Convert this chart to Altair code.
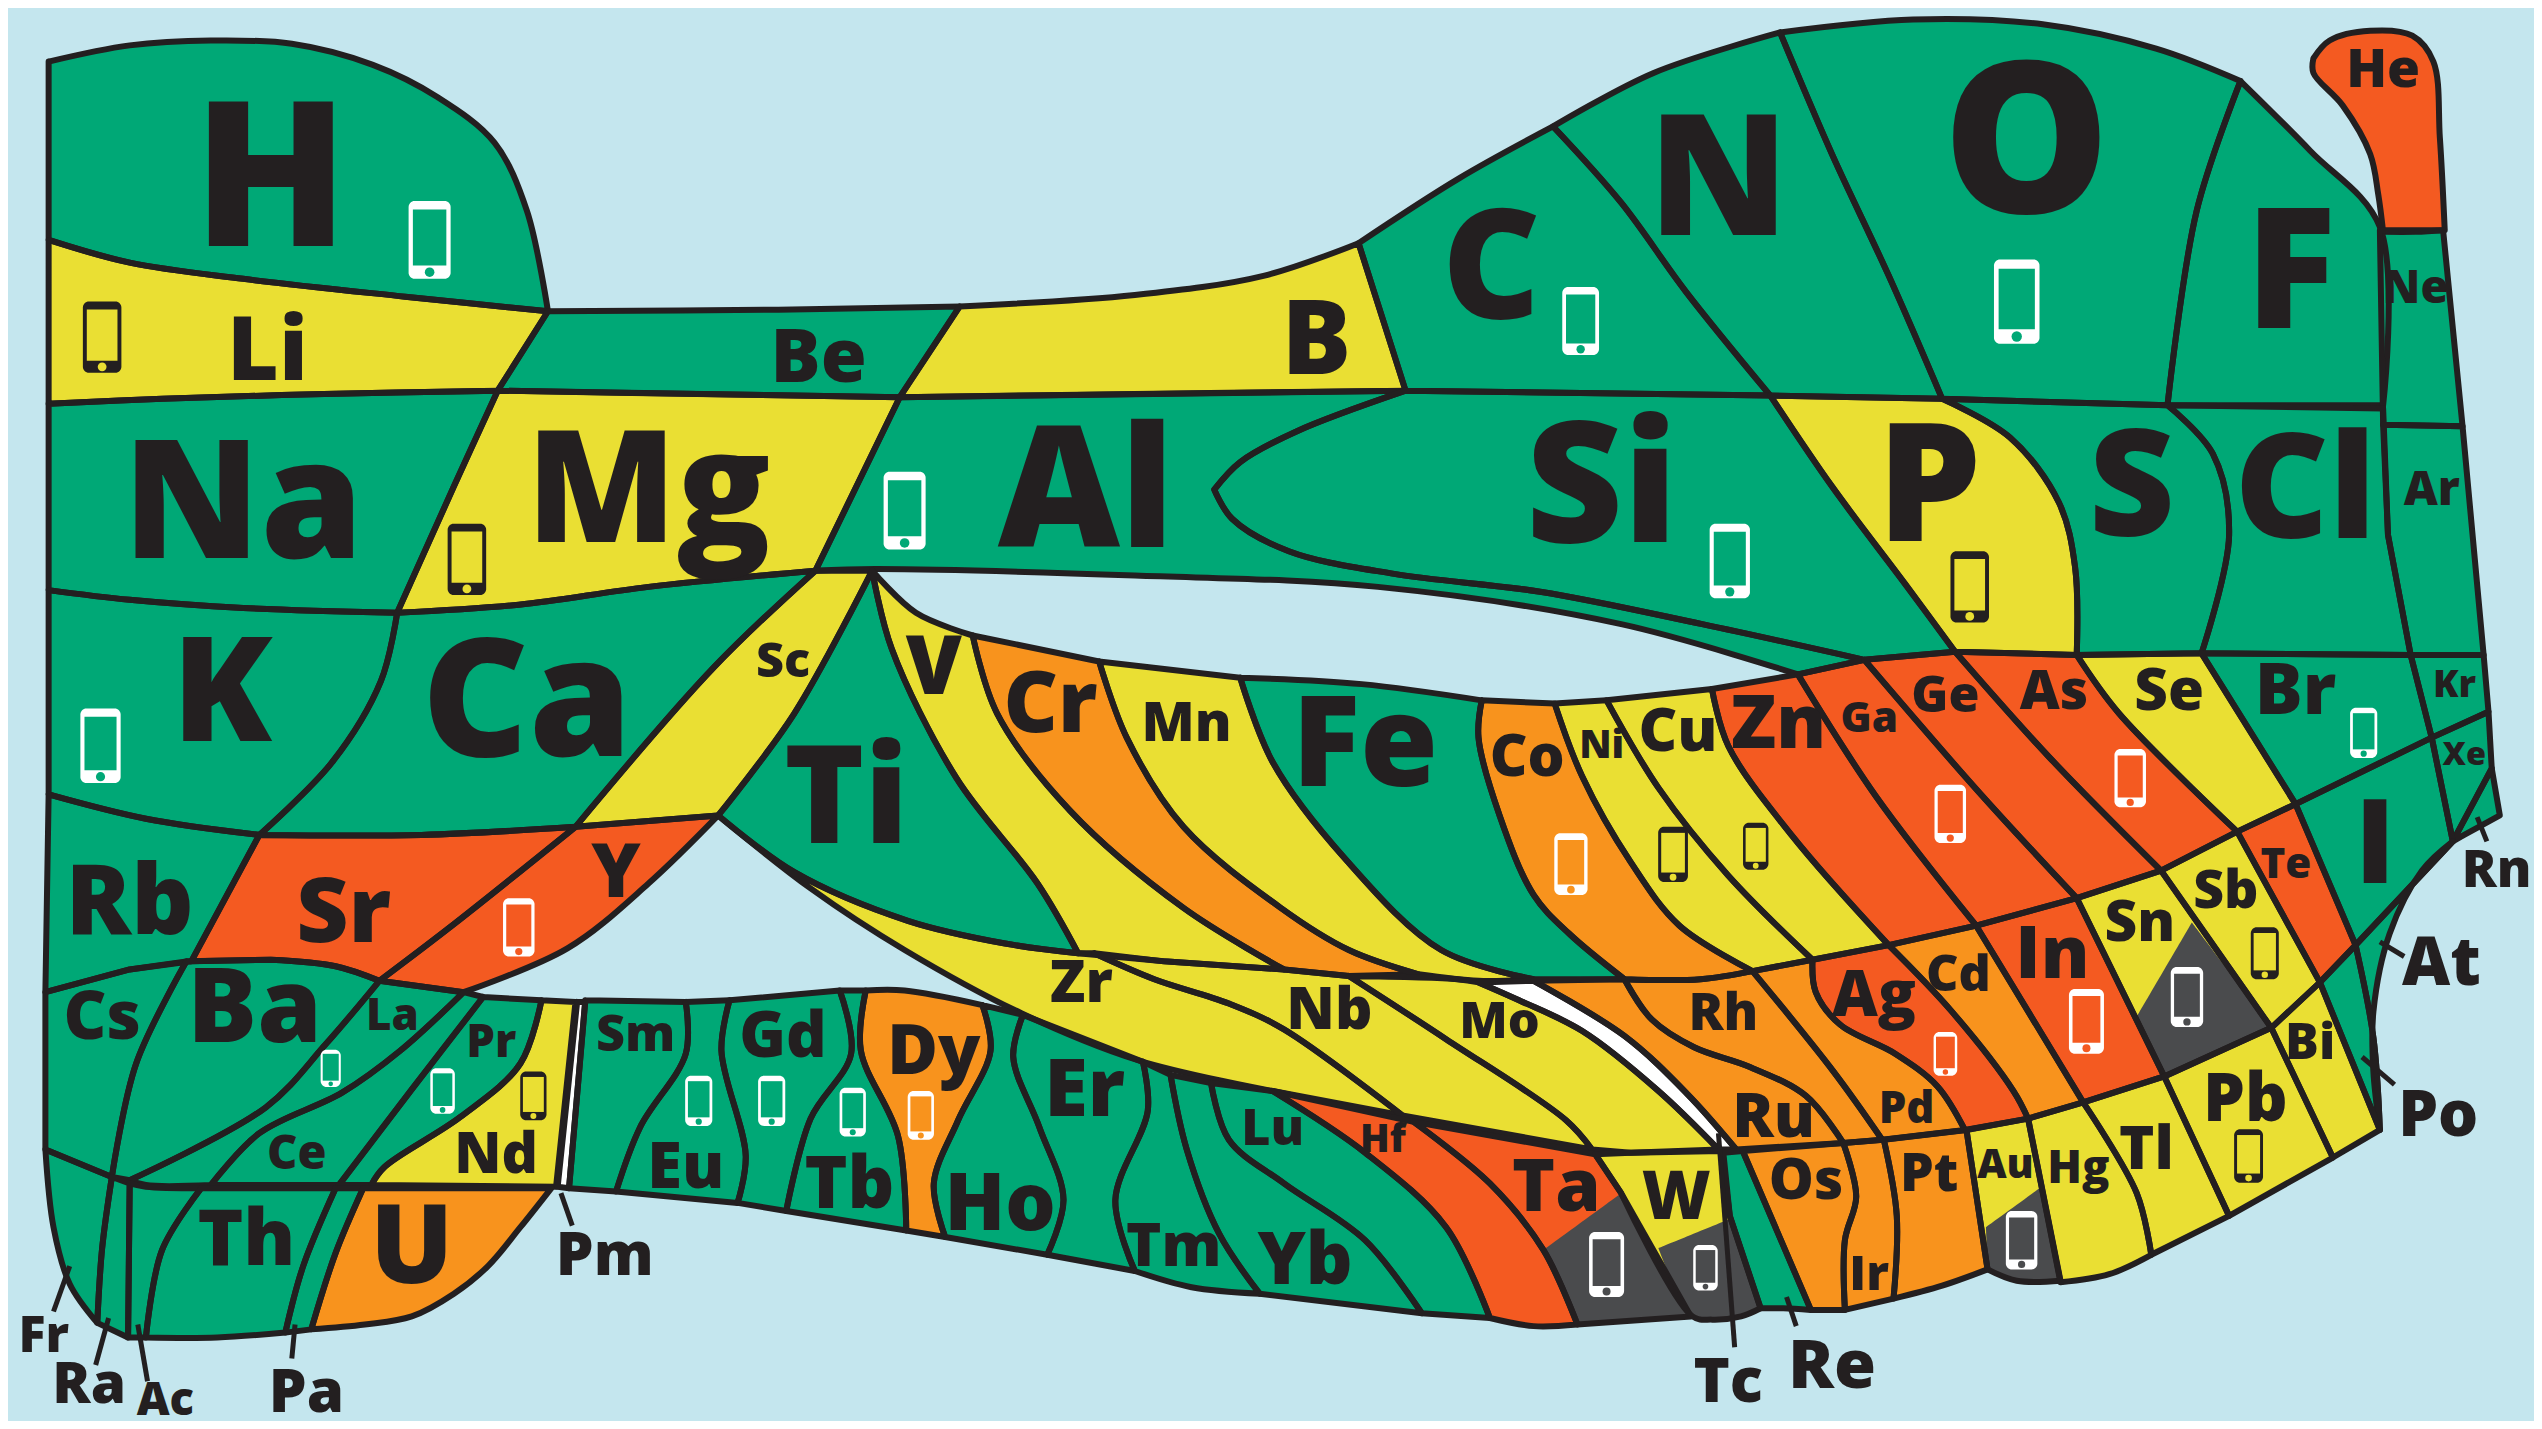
import math
import altair as alt
import pandas as pd

BG = "#C4E6EE"; INK = "#231F20"
GREEN = "#00A876"; YELLOW = "#EADF33"; RED = "#F45A21"; ORANGE = "#F8931D"; GREY = "#4A4B4D"; WHITE = "#FFFFFF"

yellow_cells = "Li B Mg P Sc V Mn Ni Cu Se Zr Nb Mo W Sn Sb Nd Au Hg Tl Pb Bi".split()
red_cells = "He Sr Y Zn Ga Ge As In Te Hf Ta Ag".split()
orange_cells = "Cr Co Ru Rh Pd Cd U Dy Os Ir Pt".split()
white_cells = ["Tc", "Pm"]
grey_cells = ["SnGrey", "TaGrey", "WGrey", "AuGrey"]

outlines = {
 "H": [(30,38),(80,28),(130,25),(180,27),(230,40),(270,60),(305,88),(325,130),(338,192),(250,183),(150,172),(80,162),(30,148)],
 "He": [(1427,36),(1437,25),(1462,19),(1488,22),(1501,38),(1505,85),(1508,142),(1490,143),(1470,143),(1467,120),(1462,95),(1445,65),(1427,45)],
 "Li": [(30,148),(80,162),(150,172),(250,183),(338,192),(307,241),(200,243),(100,246),(30,249)],
 "Be": [(338,192),(480,191),(592,189),(555,245),(307,241)],
 "B": [(592,189),(700,182),(780,170),(838,150),(867,241),(700,243),(555,245)],
 "C": [(838,150),(900,110),(958,78),(1000,125),(1040,180),(1092,244),(867,241)],
 "N": [(958,78),(1020,45),(1098,20),(1130,95),(1165,170),(1198,246),(1092,244),(1040,180),(1000,125)],
 "O": [(1098,20),(1180,12),(1260,15),(1330,30),(1382,50),(1355,130),(1337,250),(1198,246),(1165,170),(1130,95)],
 "F": [(1382,50),(1425,93),(1468,140),(1470,250),(1337,250),(1355,130)],
 "Ne": [(1468,142),(1507,142),(1519,263),(1470,262)],
 "Na": [(30,249),(100,246),(200,243),(307,241),(280,300),(245,378),(150,375),(80,370),(30,364)],
 "Mg": [(307,241),(430,243),(555,245),(503,352),(400,362),(320,373),(245,378),(280,300)],
 "Al": [(555,245),(867,241),(800,266),(765,285),(749,302),(760,320),(795,340),(860,354),(950,365),(1050,385),(1150,407),(1109,416),(1000,385),(850,362),(700,355),(540,351),(503,352)],
 "Si": [(867,241),(1092,244),(1130,300),(1175,360),(1206,402),(1150,407),(1050,385),(950,365),(860,354),(795,340),(760,320),(749,302),(765,285),(800,266)],
 "P": [(1092,244),(1198,246),(1240,270),(1270,310),(1280,350),(1281,404),(1206,402),(1175,360),(1130,300)],
 "S": [(1198,246),(1337,250),(1365,280),(1375,330),(1358,403),(1281,404),(1280,350),(1270,310),(1240,270)],
 "Cl": [(1337,250),(1470,252),(1473,330),(1487,404),(1358,403),(1375,330),(1365,280)],
 "Ar": [(1470,262),(1519,263),(1532,404),(1487,404),(1473,330)],
 "K": [(30,364),(80,370),(150,375),(245,378),(235,420),(205,470),(160,515),(90,505),(30,490)],
 "Ca": [(245,378),(320,373),(400,362),(503,352),(440,412),(355,510),(260,515),(160,515),(205,470),(235,420)],
 "Sc": [(503,352),(538,352),(490,440),(443,503),(355,510),(440,412)],
 "Ti": [(538,352),(550,400),(590,480),(640,545),(665,588),(620,582),(560,568),(490,538),(443,503),(490,440)],
 "V": [(538,352),(565,378),(600,392),(615,440),(660,500),(730,560),(792,598),(718,593),(665,588),(640,545),(590,480),(550,400)],
 "Cr": [(600,392),(678,408),(695,455),(730,510),(790,560),(832,586),(875,601),(832,602),(792,598),(730,560),(660,500),(615,440)],
 "Mn": [(678,408),(765,418),(785,470),(830,530),(889,586),(946,604),(912,605),(875,601),(832,586),(790,560),(730,510),(695,455)],
 "Fe": [(765,418),(840,422),(914,432),(912,455),(925,503),(946,552),(968,576),(1002,604),(946,604),(889,586),(830,530),(785,470)],
 "Co": [(914,432),(959,434),(976,479),(1006,532),(1036,571),(1081,599),(1049,604),(1002,604),(968,576),(946,552),(925,503),(912,455)],
 "Ni": [(959,434),(991,432),(1023,486),(1066,540),(1118,592),(1081,599),(1036,571),(1006,532),(976,479)],
 "Cu": [(991,432),(1056,425),(1066,460),(1105,515),(1165,583),(1118,592),(1066,540),(1023,486)],
 "Zn": [(1056,425),(1109,416),(1157,491),(1219,571),(1165,583),(1105,515),(1066,460)],
 "Ga": [(1109,416),(1150,407),(1221,489),(1281,554),(1219,571),(1157,491)],
 "Ge": [(1150,407),(1206,402),(1264,467),(1333,537),(1281,554),(1221,489)],
 "As": [(1206,402),(1281,404),(1307,440),(1380,513),(1333,537),(1264,467)],
 "Se": [(1281,404),(1358,403),(1416,496),(1380,513),(1307,440)],
 "Br": [(1358,403),(1487,404),(1500,455),(1416,496)],
 "Kr": [(1487,404),(1532,404),(1535,439),(1500,455)],
 "Xe": [(1500,455),(1535,439),(1537,474),(1513,519)],
 "Rn": [(1537,474),(1542,503),(1520,515),(1513,519)],
 "I": [(1416,496),(1500,455),(1513,519),(1453,583)],
 "At": [(1453,583),(1513,519),(1494,537),(1474,576),(1464,624),(1464,661),(1468,697),(1464,640)],
 "Po": [(1453,583),(1431,606),(1468,697),(1464,640)],
 "Rb": [(30,490),(90,505),(160,515),(118,593),(80,598),(28,612)],
 "Sr": [(160,515),(260,515),(355,510),(280,570),(234,605),(207,596),(167,592),(118,593)],
 "Y": [(355,510),(443,503),(400,545),(350,585),(286,612),(234,605),(280,570)],
 "Zr": [(443,503),(490,538),(560,568),(620,582),(665,588),(675,588),(712,604),(758,619),(792,635),(865,688),(785,673),(702,654),(630,625),(558,586),(500,548)],
 "Nb": [(675,588),(718,593),(792,598),(832,602),(892,641),(966,691),(982,709),(865,688),(792,635),(758,619),(712,604)],
 "Mo": [(832,602),(899,604),(912,606),(937,617),(976,636),(1023,673),(1060,709),(1006,711),(982,709),(966,691),(892,641)],
 "Tc": [(912,606),(946,605),(1002,639),(1041,675),(1071,709),(1060,709),(1023,673),(976,636),(937,617)],
 "Ru": [(946,605),(1002,604),(1019,629),(1045,646),(1079,658),(1114,676),(1137,705),(1071,709),(1041,675),(1002,639)],
 "Rh": [(1002,604),(1049,604),(1081,599),(1131,661),(1161,703),(1137,705),(1114,676),(1079,658),(1045,646),(1019,629)],
 "Pd": [(1081,599),(1118,592),(1120,612),(1135,632),(1169,650),(1195,670),(1212,697),(1161,703),(1131,661)],
 "Ag": [(1118,592),(1165,583),(1204,624),(1242,673),(1251,690),(1212,697),(1195,670),(1169,650),(1135,632),(1120,612)],
 "Cd": [(1165,583),(1219,571),(1285,680),(1251,690),(1242,673),(1204,624)],
 "In": [(1219,571),(1281,554),(1335,664),(1285,680)],
 "Sn": [(1281,554),(1333,537),(1401,634),(1335,664)],
 "Sb": [(1333,537),(1380,513),(1431,606),(1401,634)],
 "Te": [(1380,513),(1416,496),(1453,583),(1431,606)],
 "Cs": [(28,612),(80,598),(115,593),(84,656),(69,726),(28,709)],
 "Ba": [(115,593),(167,592),(207,596),(234,605),(201,644),(164,683),(80,728),(69,726),(84,656)],
 "La": [(234,605),(286,612),(247,648),(211,674),(160,699),(130,731),(90,731),(80,728),(164,683),(201,644)],
 "Ce": [(286,612),(298,615),(254,672),(209,731),(130,731),(160,699),(211,674),(247,648)],
 "Pr": [(298,615),(334,617),(321,656),(284,689),(237,720),(229,731),(209,731),(254,672)],
 "Nd": [(334,617),(355,618),(343,732),(229,731),(237,720),(284,689),(321,656)],
 "Pm": [(356,618),(361,618),(351,733),(344,732)],
 "Fr": [(28,709),(69,726),(63,770),(60,816),(43,792),(33,757)],
 "Ra": [(69,726),(80,730),(79,825),(60,816),(63,770)],
 "Ac": [(80,730),(90,732),(124,733),(100,771),(90,825),(79,825)],
 "Th": [(124,733),(207,733),(187,781),(176,822),(134,825),(90,825),(100,771)],
 "Pa": [(207,733),(224,733),(207,773),(192,820),(176,822),(187,781)],
 "U": [(224,733),(340,733),(321,757),(301,781),(280,798),(254,812),(225,817),(192,820),(207,773)],
 "Sm": [(361,617),(423,618),(423,650),(395,695),(380,735),(351,733)],
 "Eu": [(423,618),(450,617),(445,648),(460,713),(455,742),(380,735),(395,695),(423,650)],
 "Gd": [(450,617),(518,611),(525,650),(500,690),(485,747),(455,742),(460,713),(445,648)],
 "Tb": [(518,611),(534,611),(531,648),(554,701),(559,759),(485,747),(500,690),(525,650)],
 "Dy": [(534,611),(558,611),(606,620),(611,648),(591,691),(576,730),(583,763),(559,759),(554,701),(531,648)],
 "Ho": [(606,620),(631,626),(625,652),(641,695),(656,740),(646,774),(583,763),(576,730),(591,691),(611,648)],
 "Er": [(631,626),(705,655),(708,685),(688,740),(700,784),(646,774),(656,740),(641,695),(625,652)],
 "Tm": [(705,655),(722,663),(732,709),(752,761),(777,798),(735,794),(700,784),(688,740),(708,685)],
 "Yb": [(722,663),(747,668),(758,703),(792,730),(842,765),(877,810),(777,798),(752,761),(732,709)],
 "Lu": [(747,668),(785,673),(842,711),(892,757),(919,813),(877,810),(842,765),(792,730),(758,703)],
 "Hf": [(785,673),(872,692),(919,730),(952,771),(973,817),(946,818),(919,813),(892,757),(842,711)],
 "Ta": [(872,692),(984,712),(1000,736),(1043,812),(973,817),(952,771),(919,730)],
 "W": [(984,712),(1006,711),(1062,710),(1067,750),(1086,807),(1074,812),(1056,814),(1044,812),(1000,736)],
 "Re": [(1063,711),(1075,710),(1117,808),(1100,807),(1086,807),(1067,750)],
 "Os": [(1075,710),(1137,705),(1145,738),(1138,765),(1138,808),(1117,808)],
 "Ir": [(1137,705),(1162,703),(1170,750),(1168,801),(1138,808),(1138,765),(1145,738)],
 "Pt": [(1162,703),(1213,697),(1226,783),(1198,793),(1168,801),(1170,750)],
 "Au": [(1213,697),(1251,690),(1271,790),(1244,790),(1226,783)],
 "Hg": [(1251,690),(1285,680),(1318,736),(1327,774),(1301,786),(1271,791)],
 "Tl": [(1285,680),(1335,664),(1375,750),(1327,774),(1318,736)],
 "Pb": [(1335,664),(1401,634),(1439,714),(1375,750)],
 "Bi": [(1401,634),(1431,606),(1468,697),(1439,714)],
 "SnGrey": [(1352,569),(1318,627),(1335,664),(1401,634)],
 "TaGrey": [(1000,736),(952,771),(973,817),(1043,812)],
 "WGrey": [(1023,770),(1067,752),(1086,807),(1074,812),(1056,814),(1044,812)],
 "AuGrey": [(1225,757),(1258,733),(1271,790),(1244,790),(1226,783)],
}

label_text = ("H He Li Be B C N O F Ne Na Mg Al Si P S Cl Ar K Ca Sc Ti V Cr Mn Fe Co Ni Cu Zn Ga Ge As Se Br Kr Xe "
              "Rb Sr Y Zr Nb Mo Tc Ru Rh Pd Ag Cd In Sn Sb Te I Cs Ba La Ce Pr Nd Pm Sm Eu Gd Tb Dy Ho Er Tm Yb Lu "
              "Hf Ta W Re Os Ir Pt Au Hg Tl Pb Bi Po At Rn Fr Ra Ac Pa Th U").split()
label_x = [167,1470,165,505,812,920,1060,1250,1413,1490,150,400,670,988,1190,1315,1422,1500,137,325,483,522,576,648,732,842,942,988,1035,1097,1153,1200,1267,1338,1416,1514,1520,
           80,212,380,667,820,925,1066,1094,1063,1176,1156,1208,1266,1320,1373,1410,1465,63,157,242,183,303,306,373,392,423,483,524,576,617,669,724,805,785,
           853,960,1034,1130,1114,1153,1190,1237,1282,1324,1385,1425,1504,1506,1540,27,55,102,189,152,254]
label_y = [107,42,215,219,208,163,108,85,165,177,308,300,300,297,297,298,300,301,425,430,407,490,410,433,445,457,466,459,450,445,442,428,425,425,425,422,465,
           555,561,537,605,622,629,851,688,624,683,613,600,587,568,548,532,519,626,620,626,711,642,711,773,637,719,638,729,647,741,671,768,776,695,
           702,731,737,841,727,785,723,718,720,708,677,642,687,593,536,823,853,863,858,763,767]
label_size = [125,33,55,46,64,94,104,130,104,28,102,96,104,104,102,92,90,29,90,102,30,84,50,52,34,78,36,24,37,46,26,31,34,36,44,23,20,
              60,56,46,36,36,31,38,38,32,27,39,31,45,35,33,26,72,41,64,27,29,28,35,37,31,39,39,45,43,49,49,37,45,31,
              24,45,41,42,35,30,33,25,28,37,41,31,39,41,32,31,35,28,37,48,68]

leader_x = [(43,33),(67,59),(85,91),(182,180),(346,353),(1102,1108),(1060,1070),(1528,1534),(1468,1483),(1457,1477)]
leader_y = [(781,809),(813,842),(817,852),(817,838),(736,756),(800,818),(699,831),(504,519),(581,590),(652,669)]

phone_x = [265,63,288,558,975,1244,1067,1215,62,320,1458,969,1032,1083,1203,1314,204,273,329,431,476,526,568,1200,1287,1349,1397,1387,991,1052,1247]
phone_y = [148,208,345,315,198,186,346,362,460,572,452,533,527,522,502,480,659,673,676,679,679,686,688,650,630,615,588,713,780,782,765]
phone_h = [48,44,44,48,42,52,46,44,46,36,31,38,34,29,36,36,23,28,30,31,31,30,30,27,40,37,32,33,40,28,36]
phone_body = ["w","k","k","w","w","w","w","k","w","w","w","w","k","k","w","w","w","w","k","w","w","w","w","w","w","w","k","k","w","w","w"]
phone_screen = ["g","y","y","g","g","g","g","y","g","r","g","o","y","y","r","r","g","g","y","g","g","g","o","r","r","s","y","y","s","s","s"]


def cell_color(name):
    if name in yellow_cells: return YELLOW
    if name in red_cells: return RED
    if name in orange_cells: return ORANGE
    if name in white_cells: return WHITE
    if name in grey_cells: return GREY
    return GREEN


# A vertex stays smooth only when it is interior to one curve: every outline that
# uses it has the same two neighbours there and the turn is gentle. Repeating all
# other vertices makes the renderer's Catmull-Rom curve keep them as sharp corners.
neighbours = {}
for name, pts in outlines.items():
    if name in grey_cells:
        continue
    n = len(pts)
    for i, p in enumerate(pts):
        neighbours.setdefault(p, set()).add(frozenset((pts[i - 1], pts[(i + 1) % n])))


def is_corner(prev, p, nxt):
    if len(neighbours.get(p, ())) != 1:
        return True
    a1 = math.atan2(p[1] - prev[1], p[0] - prev[0])
    a2 = math.atan2(nxt[1] - p[1], nxt[0] - p[0])
    d = abs((a2 - a1 + math.pi) % (2 * math.pi) - math.pi)
    return d > math.radians(62)


rows = []
for i, (name, pts) in enumerate(outlines.items()):
    n = len(pts)
    seq = 0
    for j in range(n + 1):
        p = pts[j % n]
        copies = 2 if is_corner(pts[(j - 1) % n], p, pts[(j + 1) % n]) else 1
        for _ in range(copies):
            rows.append({"cell": f"{i:03d}{name}", "seq": seq, "x": p[0], "y": p[1], "c": cell_color(name),
                         "grey": name in grey_cells})
            seq += 1
cells = pd.DataFrame(rows)
plain = cells[~cells.grey]
greys = cells[cells.grey]

W, H = 2526, 1413
K = 2542 / 1568
X = alt.Scale(domain=[8 / K, (8 + W) / K], nice=False, zero=False)
Y = alt.Scale(domain=[(8 + H) / K, 8 / K], nice=False, zero=False)
xe = lambda f: alt.X(f, type="quantitative", scale=X, axis=None)
ye = lambda f: alt.Y(f, type="quantitative", scale=Y, axis=None)

fill_layer = alt.Chart(plain).mark_line(strokeWidth=0, interpolate="catmull-rom").encode(
    x=xe("x"), y=ye("y"), order="seq:Q", detail="cell:N", fill=alt.Fill("c:N", scale=None))
grey_layer = alt.Chart(greys).mark_line(strokeWidth=0, interpolate="catmull-rom").encode(
    x=xe("x"), y=ye("y"), order="seq:Q", detail="cell:N", fill=alt.Fill("c:N", scale=None))
edge_layer = alt.Chart(plain).mark_line(stroke=INK, strokeWidth=6, strokeJoin="round", strokeCap="round",
                                        interpolate="catmull-rom").encode(
    x=xe("x"), y=ye("y"), order="seq:Q", detail="cell:N")

leaders = pd.DataFrame([{"x": a, "x2": b, "y": c, "y2": d} for (a, b), (c, d) in zip(leader_x, leader_y)])
leader_layer = alt.Chart(leaders).mark_rule(stroke=INK, strokeWidth=5).encode(
    x=xe("x"), x2="x2:Q", y=ye("y"), y2="y2:Q")

palette = {"w": WHITE, "k": INK, "g": GREEN, "y": YELLOW, "r": RED, "o": ORANGE, "s": GREY}
ph = pd.DataFrame({"cx": phone_x, "cy": phone_y, "h": phone_h,
                   "body": [palette[b] for b in phone_body], "screen": [palette[s] for s in phone_screen]})
ph["x1"] = ph.cx - ph.h * 0.27; ph["x2"] = ph.cx + ph.h * 0.27
ph["y1"] = ph.cy - ph.h * 0.5; ph["y2"] = ph.cy + ph.h * 0.5
ph["sx1"] = ph.cx - ph.h * 0.215; ph["sx2"] = ph.cx + ph.h * 0.215
ph["sy1"] = ph.cy - ph.h * 0.39; ph["sy2"] = ph.cy + ph.h * 0.33
ph["by"] = ph.cy + ph.h * 0.415
ph["bsize"] = ph.h * ph.h * 0.04

body_layer = alt.Chart(ph).mark_rect(cornerRadius=6).encode(
    x=xe("x1"), x2="x2:Q", y=ye("y1"), y2="y2:Q", color=alt.Color("body:N", scale=None))
screen_layer = alt.Chart(ph).mark_rect().encode(
    x=xe("sx1"), x2="sx2:Q", y=ye("sy1"), y2="sy2:Q", color=alt.Color("screen:N", scale=None))
button_layer = alt.Chart(ph).mark_point(filled=True, opacity=1, shape="circle").encode(
    x=xe("cx"), y=ye("by"), color=alt.Color("screen:N", scale=None), size=alt.Size("bsize:Q", scale=None))

labels = pd.DataFrame({"t": label_text, "x": label_x, "y": label_y, "s": label_size})
labels["base"] = labels.y + labels.s * 0.357
text_layer = alt.Chart(labels).mark_text(font="Open Sans", fontWeight=800, color=INK, baseline="alphabetic", align="center").encode(
    x=xe("x"), y=ye("base"), text="t:N",
    size=alt.Size("s:Q", scale=alt.Scale(domain=[0, 100], range=[0, 162], zero=True, nice=False), legend=None))

chart = alt.layer(fill_layer, grey_layer, edge_layer, leader_layer, body_layer, screen_layer, button_layer, text_layer).properties(
    width=W, height=H, background=BG, padding=0, autosize=alt.AutoSizeParams(type="none")
).configure_view(stroke=None)

chart.save("out.html", embed_options={"renderer": "svg", "actions": False})
